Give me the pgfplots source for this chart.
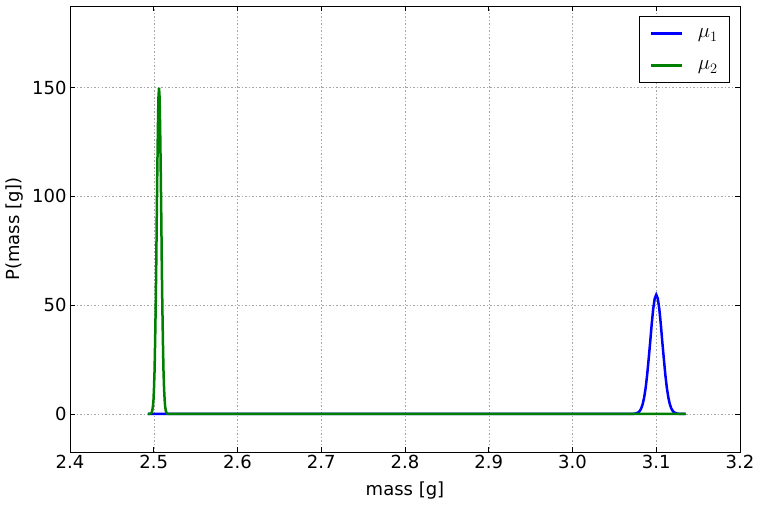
\documentclass[border=0pt]{standalone}
\usepackage{pgfplots}
\pgfplotsset{compat=1.18}
\usepackage{fontspec}
\setmainfont{DejaVu Sans}

% green: mu = 2.5063, peak 150 ; blue: mu = 3.1, peak 54.8
\begin{document}
\begin{tikzpicture}[font=\fontsize{18}{21}\selectfont]
\begin{axis}[
    at={(0pt,0pt)}, anchor=south west,
    scale only axis,
    width=670pt, height=446pt,
    xmin=2.4, xmax=3.2,
    ymin=-17.5, ymax=187.5,
    xtick={2.4,2.5,...,3.2},
    ytick={0,50,100,150},
    xticklabel style={/pgf/number format/.cd, fixed, fixed zerofill, precision=1},
    /pgf/number format/assume math mode=true,
    tick align=inside,
    major tick length=5pt,
    tick style={black, line width=0.6pt},
    axis line style={line width=0.8pt},
    grid=major,
    major grid style={gray!70, line width=0.5pt, dash pattern=on 1.5pt off 2pt},
    xlabel={mass [g]},
    ylabel={P(mass [g])},
    xlabel style={yshift=-6pt},
    ylabel style={yshift=2pt},
    legend style={at={(0.985,0.978)}, anchor=north east, draw=black,
        line width=0.8pt, inner xsep=10pt, inner ysep=1pt,
        nodes={inner sep=2pt}},
    legend cell align=left,
    legend image code/.code={
        \path[draw=none, fill=none] (0pt,-15pt) rectangle (31pt,17pt);
        \draw[#1, line width=3pt] (0pt,0.5pt) -- (31pt,0.5pt);},
    every axis plot/.append style={line width=2.5pt},
]
\addplot[blue, no markers] coordinates {
    (2.493,0) (3.071,0.018) (3.0746,0.12) (3.0783,0.61) (3.0801,1.25)
    (3.0819,2.41) (3.0837,4.36) (3.0855,7.42) (3.0873,11.85) (3.0891,17.8)
    (3.0909,25.1) (3.0928,33.2) (3.0946,41.4) (3.0964,48.4) (3.0982,53.1)
    (3.1,54.8)
    (3.1018,53.1) (3.1036,48.4) (3.1054,41.4) (3.1072,33.2) (3.1091,25.1)
    (3.1109,17.8) (3.1127,11.85) (3.1145,7.42) (3.1163,4.36) (3.1181,2.41)
    (3.1199,1.25) (3.1217,0.61) (3.1254,0.12) (3.129,0.018) (3.135,0)
};
\addlegendentry{\hspace{12pt}\fontsize{20}{24}\selectfont$\mu_1$}
\addplot[green!50!black, no markers] coordinates {
    (2.4930,0) (2.4957,0.05) (2.4970,0.33) (2.4977,0.76) (2.4983,1.67)
    (2.4990,3.42) (2.4997,6.59) (2.5003,11.9) (2.5010,20.3) (2.5016,32.4)
    (2.5023,48.7) (2.5030,68.7) (2.5036,91.0) (2.5043,113.2) (2.5050,132.4)
    (2.5056,145.4) (2.5063,150)
    (2.5070,145.4) (2.5076,132.4) (2.5083,113.2) (2.5090,91.0) (2.5096,68.7)
    (2.5103,48.7) (2.5110,32.4) (2.5116,20.3) (2.5123,11.9) (2.5130,6.59)
    (2.5136,3.42) (2.5143,1.67) (2.5149,0.76) (2.5156,0.33) (2.5169,0.05)
    (2.5300,0) (3.1350,0)
};
\addlegendentry{\hspace{12pt}\fontsize{20}{24}\selectfont$\mu_2$}
\end{axis}
\pgfresetboundingbox
\path[use as bounding box] (-70pt,-55pt) rectangle (690pt,452pt);
\end{tikzpicture}
\end{document}
